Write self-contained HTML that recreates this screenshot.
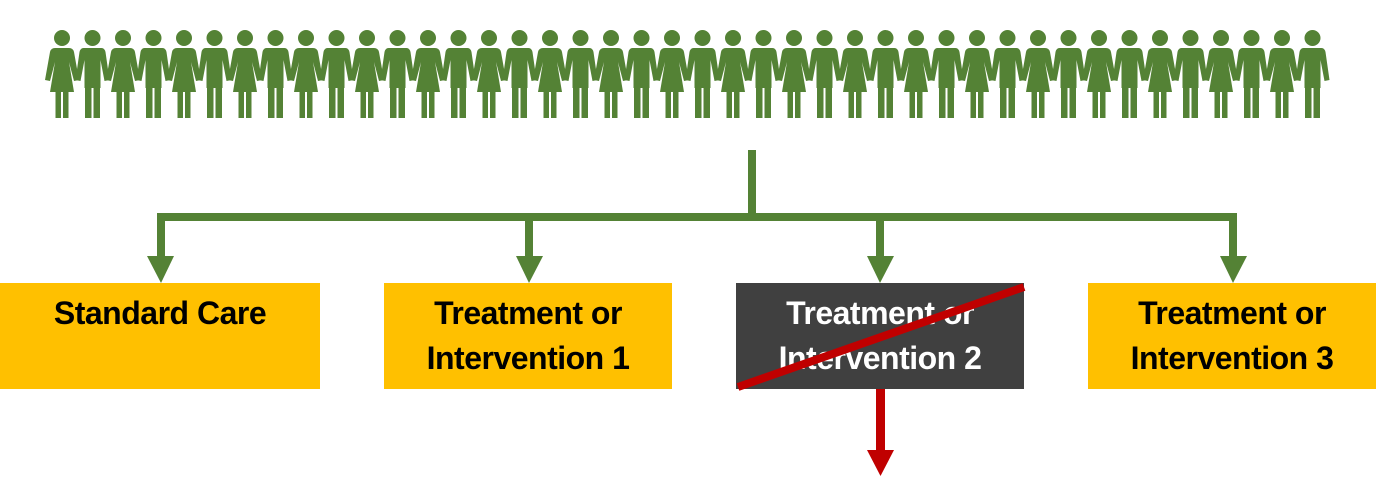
<!DOCTYPE html>
<html><head><meta charset="utf-8"><style>
html,body{margin:0;padding:0;background:#fff;}
body{width:1376px;height:504px;overflow:hidden;position:relative;font-family:"Liberation Sans",sans-serif;}
.box{position:absolute;top:283px;height:106px;background:#FFC000;color:#000;font-weight:bold;font-size:32px;letter-spacing:-0.5px;text-align:center;line-height:45px;box-sizing:border-box;padding-top:8px;}
</style></head><body>
<svg width="1376" height="504" style="position:absolute;left:0;top:0">
<defs>
<g id="m" fill="#548235">
<circle cx="0" cy="38" r="8"/>
<path d="M-9,48 H9 Q12,48 13,52 L17,80 L12,81 L8,60 V88 H-8 V60 L-12,81 L-17,80 L-13,52 Q-12,48 -9,48 Z"/>
<rect x="-7.5" y="87" width="6.5" height="31"/>
<rect x="1" y="87" width="6.5" height="31"/>
</g>
<g id="w" fill="#548235">
<circle cx="0" cy="38" r="8"/>
<path d="M-7,48 H7 Q11,48 12,52 L17,80 L12,81 L7,62 L12,92 H-12 L-7,62 L-12,81 L-17,80 L-12,52 Q-11,48 -7,48 Z"/>
<rect x="-6.5" y="91" width="5.5" height="27"/>
<rect x="1" y="91" width="5.5" height="27"/>
</g>
</defs>
<g fill="#548235" stroke="none">
<rect x="748" y="150" width="8" height="67"/>
<rect x="157" y="213" width="1080" height="8"/>
<rect x="157" y="213" width="8" height="45"/>
<rect x="525" y="213" width="8" height="45"/>
<rect x="876" y="213" width="8" height="45"/>
<rect x="1229" y="213" width="8" height="45"/>
<polygon points="147,256 174,256 161,283"/>
<polygon points="516,256 543,256 529,283"/>
<polygon points="867,256 894,256 880,283"/>
<polygon points="1220,256 1247,256 1233,283"/>
</g>
</svg>
<div class="box" style="left:0;width:320px;">Standard Care</div>
<div class="box" style="left:384px;width:288px;">Treatment or<br>Intervention 1</div>
<div class="box" style="left:736px;width:288px;background:#404040;color:#fff;">Treatment or<br>Intervention 2</div>
<div class="box" style="left:1088px;width:288px;">Treatment or<br>Intervention 3</div>
<svg width="1376" height="504" style="position:absolute;left:0;top:0">
<line x1="738" y1="387" x2="1024" y2="287" stroke="#C00000" stroke-width="8"/>
<rect x="876" y="389" width="9" height="62" fill="#C00000"/>
<polygon points="867,450 894,450 880.5,476" fill="#C00000"/>
</svg>
<svg width="1376" height="130" style="position:absolute;left:0;top:0">
<use href="#w" x="62"/><use href="#m" x="92.5"/><use href="#w" x="123"/><use href="#m" x="153.5"/>
<use href="#w" x="184"/><use href="#m" x="214.5"/><use href="#w" x="245"/><use href="#m" x="275.5"/>
<use href="#w" x="306"/><use href="#m" x="336.5"/><use href="#w" x="367"/><use href="#m" x="397.5"/>
<use href="#w" x="428"/><use href="#m" x="458.5"/><use href="#w" x="489"/><use href="#m" x="519.5"/>
<use href="#w" x="550"/><use href="#m" x="580.5"/><use href="#w" x="611"/><use href="#m" x="641.5"/>
<use href="#w" x="672"/><use href="#m" x="702.5"/><use href="#w" x="733"/><use href="#m" x="763.5"/>
<use href="#w" x="794"/><use href="#m" x="824.5"/><use href="#w" x="855"/><use href="#m" x="885.5"/>
<use href="#w" x="916"/><use href="#m" x="946.5"/><use href="#w" x="977"/><use href="#m" x="1007.5"/>
<use href="#w" x="1038"/><use href="#m" x="1068.5"/><use href="#w" x="1099"/><use href="#m" x="1129.5"/>
<use href="#w" x="1160"/><use href="#m" x="1190.5"/><use href="#w" x="1221"/><use href="#m" x="1251.5"/>
<use href="#w" x="1282"/><use href="#m" x="1312.5"/>
</svg>
</body></html>
